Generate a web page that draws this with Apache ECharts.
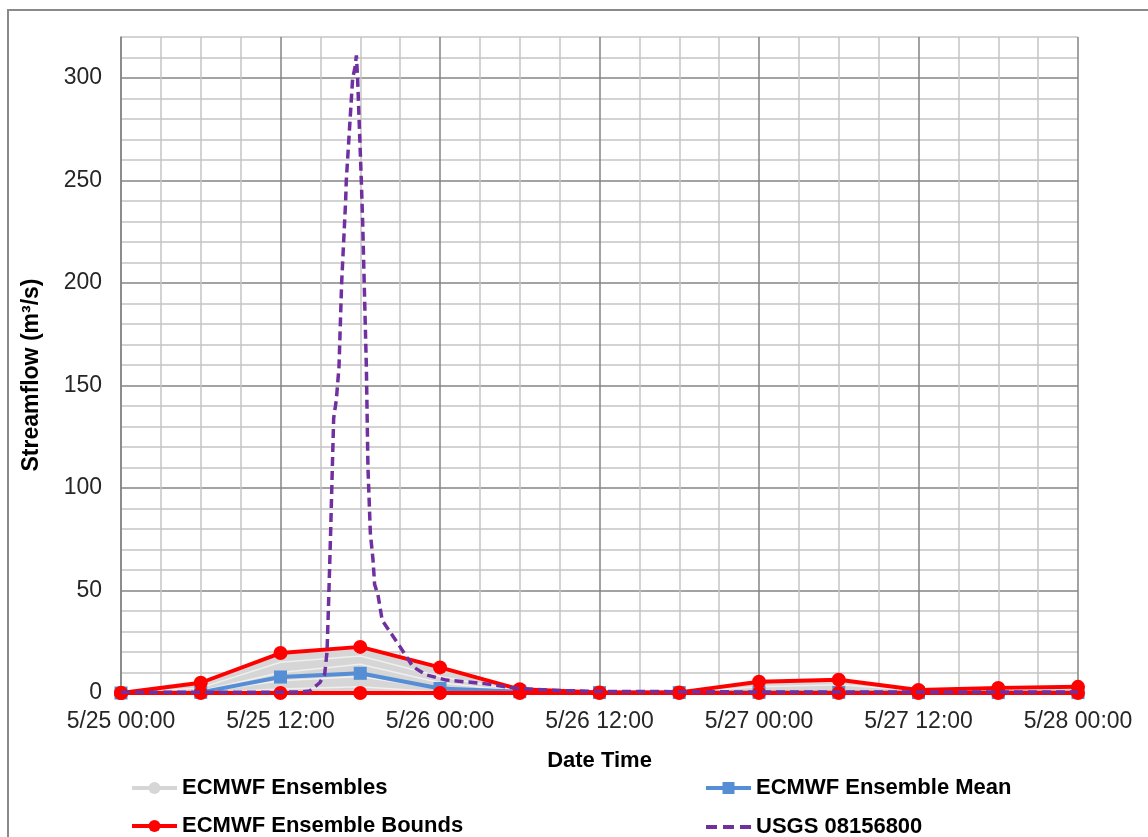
<!DOCTYPE html>
<html>
<head>
<meta charset="utf-8">
<script src="https://cdn.jsdelivr.net/npm/echarts@6/dist/echarts.min.js"></script>
<style>
  html, body { margin: 0; padding: 0; background: #fff; }
  #chart { width: 1148px; height: 837px; }
</style>
</head>
<body>
<div id="chart"></div>
<script>
// forecast times, hours after 5/25 00:00
const hours = [0, 6, 12, 18, 24, 30, 36, 42, 48, 54, 60, 66, 72];
const tickLabels = ['5/25 00:00', '5/25 12:00', '5/26 00:00', '5/26 12:00', '5/27 00:00', '5/27 12:00', '5/28 00:00'];

// ensemble members (m3/s)
const ens1 = [0, 4.8, 18.8, 21.8, 11.8, 1.4, 0.3, 0.3, 5.3, 6.3, 1.4, 2.4, 2.9];
const ens2 = [0, 2.5, 15, 18, 8, 1, 0.2, 0.2, 3, 4, 1.2, 2, 2.5];
const ens3 = [0, 1, 10, 14, 5, 0.8, 0.2, 0.2, 0.3, 0.3, 0.2, 0.2, 0.2];
const ens4 = [0, 0.5, 6, 8, 2, 0.5, 0.1, 0.1, 0.2, 0.2, 0.1, 0.1, 0.1];
const ens5 = [0, 0, 2, 3, 0.5, 0.2, 0, 0, 0, 0, 0, 0, 0];

const ensMean = [0, 0.3, 7.8, 9.6, 2.2, 0.6, 0.2, 0.2, 0.3, 0.3, 0.2, 0.2, 0.2];
const upperBound = [0, 5, 19.5, 22.5, 12.5, 1.8, 0.3, 0.3, 5.5, 6.5, 1.5, 2.5, 3];
const lowerBound = [0, 0, 0, 0, 0, 0, 0, 0, 0, 0, 0, 0, 0];

// observed gauge flow
const usgsHours = [0, 6, 12, 13.5, 14.2, 14.95, 15.32, 15.5, 15.6, 15.77, 15.9, 16.0, 16.2, 16.4, 16.6, 16.9, 16.95, 17.43, 17.6, 17.71, 17.8, 18.08, 18.18, 18.46, 18.58, 18.76, 18.96, 19.08, 19.33, 19.65, 21.0, 21.96, 22.97, 24.48, 27.2, 29.75, 33, 36, 48, 60, 72];
const usgsFlow = [0.4, 0.4, 0.4, 0.5, 1, 5, 9, 20, 40, 78, 110, 134, 143, 159, 200, 240, 250, 300, 305, 311, 300, 250, 230, 159, 110, 78, 65, 53, 48, 35.5, 22.5, 12.8, 8.8, 6.3, 4.7, 2.3, 1.2, 0.8, 0.5, 0.5, 0.5];

const pair = (xs, ys) => xs.map((x, i) => [x, ys[i]]);

const chart = echarts.init(document.getElementById('chart'));

const font = '"Liberation Sans", Arial, sans-serif';
const members = [ens2, ens3, ens4, ens5];

const series = [
  {
    name: 'ECMWF Ensembles',
    type: 'line',
    data: pair(hours, ens1),
    symbol: 'circle',
    symbolSize: 5,
    color: '#d6d6d6',
    lineStyle: { width: 3, color: '#d6d6d6' },
    areaStyle: { color: '#d6d6d6', opacity: 1 },
    z: 1
  }
];
members.forEach(m => {
  series.push({
    name: 'ECMWF Ensembles',
    type: 'line',
    data: pair(hours, m),
    symbol: 'none',
    color: '#efefef',
    lineStyle: { width: 1.5, color: '#efefef' },
    z: 1
  });
});
series.push(
  {
    name: 'ECMWF Ensemble Mean',
    type: 'line',
    data: pair(hours, ensMean),
    symbol: 'rect',
    symbolSize: 13,
    color: '#558ed5',
    lineStyle: { width: 4, color: '#558ed5' },
    z: 2
  },
  {
    name: 'ECMWF Ensemble Bounds',
    type: 'line',
    data: pair(hours, upperBound),
    symbol: 'circle',
    symbolSize: 14,
    color: '#ff0000',
    lineStyle: { width: 4, color: '#ff0000' },
    z: 3
  },
  {
    name: 'ECMWF Ensemble Bounds',
    type: 'line',
    data: pair(hours, lowerBound),
    symbol: 'circle',
    symbolSize: 14,
    color: '#ff0000',
    lineStyle: { width: 4, color: '#ff0000' },
    z: 3
  },
  {
    name: 'USGS 08156800',
    type: 'line',
    data: pair(usgsHours, usgsFlow),
    symbol: 'none',
    color: '#7030a0',
    lineStyle: { width: 3.5, color: '#7030a0', type: [9, 5] },
    z: 4
  }
);

const legendText = { fontFamily: font, fontSize: 22, fontWeight: 'bold', color: '#000' };
const legendItem = (name, left, top, extra) => Object.assign({
  data: [name],
  left: left, top: top,
  itemWidth: 45, itemHeight: 15,
  lineStyle: { width: 4 },
  textStyle: legendText
}, extra || {});

const option = {
  animation: false,
  backgroundColor: '#fff',
  textStyle: { fontFamily: font },
  graphic: [{
    type: 'rect',
    shape: { x: 8, y: 10, width: 1200, height: 900 },
    style: { fill: 'none', stroke: '#8a8a8a', lineWidth: 2 },
    silent: true
  }],
  grid: { left: 121, right: 70, top: 37, bottom: 144 },
  legend: [
    legendItem('ECMWF Ensembles', 125, 772),
    legendItem('ECMWF Ensemble Bounds', 125, 810),
    legendItem('ECMWF Ensemble Mean', 699, 772),
    legendItem('USGS 08156800', 701, 811, {
      data: [{ name: 'USGS 08156800', icon: 'path://M0,0h11v4h-11zM17,0h11v4h-11zM34,0h11v4h-11z' }],
      itemHeight: 4
    })
  ],
  xAxis: {
    type: 'value',
    min: 0, max: 72, interval: 3,
    name: 'Date Time',
    nameLocation: 'middle',
    nameGap: 57,
    nameTextStyle: { fontFamily: font, fontSize: 22, fontWeight: 'bold', color: '#000' },
    axisLine: { show: false },
    axisTick: { show: false },
    axisLabel: {
      margin: 17,
      fontFamily: font, fontSize: 23, color: '#262626',
      formatter: v => (v % 12 === 0 ? tickLabels[v / 12] : '')
    },
    splitLine: { show: true, lineStyle: { color: ['#858585', '#c4c4c4', '#c4c4c4', '#c4c4c4'], width: 1.5 } }
  },
  yAxis: {
    type: 'value',
    min: 0, max: 320, interval: 10,
    name: 'Streamflow (m³/s)',
    nameLocation: 'middle',
    nameGap: 78,
    nameTextStyle: { fontFamily: font, fontSize: 23, fontWeight: 'bold', color: '#000', padding: [0, 20, 0, 0] },
    axisLine: { show: true, lineStyle: { color: '#858585', width: 1.5 } },
    axisTick: { show: false },
    axisLabel: {
      margin: 19,
      fontFamily: font, fontSize: 23, color: '#262626',
      formatter: v => (v % 50 === 0 ? String(v) : '')
    },
    splitLine: { show: true, lineStyle: { color: ['#858585', '#c4c4c4', '#c4c4c4', '#c4c4c4', '#c4c4c4'], width: 1.5 } }
  },
  series: series
};

chart.setOption(option);
</script>
</body>
</html>
